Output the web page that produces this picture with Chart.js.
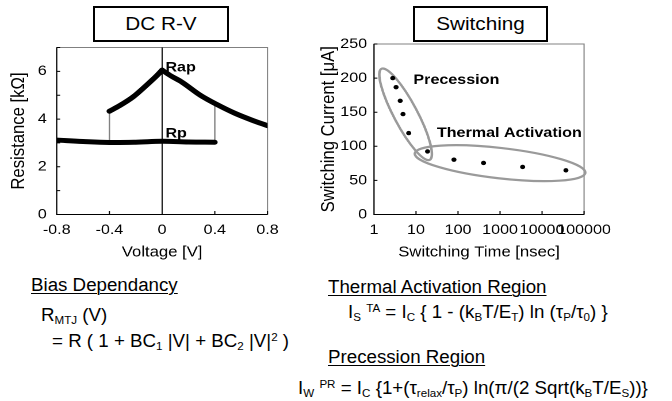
<!DOCTYPE html>
<html>
<head>
<meta charset="utf-8">
<script src="https://cdn.jsdelivr.net/npm/chart.js@4.4.0/dist/chart.umd.min.js"></script>
<style>
  html, body { margin: 0; padding: 0; background: #fff; }
  body { width: 672px; height: 401px; position: relative; overflow: hidden;
         font-family: "Liberation Sans", Arial, sans-serif; color: #000; }
  .chart { position: absolute; top: 0; transform-origin: 0 0; transform: scaleX(1.15); }
  .titlebox { position: absolute; top: 6px; height: 36px; border: 2px solid #000; box-sizing: border-box;
              display: flex; align-items: center; justify-content: center; font-size: 18px; background: #fff; }
  .titlebox span { display: inline-block; transform: scaleX(1.15); }
  .txt { position: absolute; font-size: 18px; line-height: 1; white-space: nowrap;
         transform-origin: 0 0; transform: scaleX(1.04); }
  .u { text-decoration: underline; text-underline-offset: 2px; text-decoration-thickness: 1px; }
  sub, sup { font-size: 0.62em; line-height: 0; }
  sub { vertical-align: -0.3em; }
  sup { vertical-align: 0.55em; }
</style>
</head>
<body>

<div class="titlebox" style="left:93px; width:136px;"><span>DC R-V</span></div>
<div class="titlebox" style="left:413px; width:135px;"><span>Switching</span></div>

<canvas id="rv" class="chart" style="left:0px;" width="250" height="265"></canvas>
<canvas id="sw" class="chart" style="left:310px;" width="275" height="265"></canvas>

<div class="txt u" style="left:31px; top:276px;">Bias Dependancy</div>
<div class="txt" style="left:41px; top:306px;">R<sub>MTJ</sub> (V)</div>
<div class="txt" style="left:52px; top:332px;">= R ( 1 + BC<sub>1</sub> |V| + BC<sub>2</sub> |V|<sup>2</sup> )</div>

<div class="txt u" style="left:328px; top:278px;">Thermal Activation Region</div>
<div class="txt" style="left:348px; top:303px;">I<sub>S</sub> <sup>TA</sup> = I<sub>C</sub> { 1 - (k<sub>B</sub>T/E<sub>T</sub>) ln (τ<sub>P</sub>/τ<sub>0</sub>) }</div>
<div class="txt u" style="left:328px; top:348px;">Precession Region</div>
<div class="txt" style="left:298px; top:379px;">I<sub>W</sub> <sup>PR</sup> = I<sub>C</sub> {1+(τ<sub>relax</sub>/τ<sub>P</sub>) ln(π/(2 Sqrt(k<sub>B</sub>T/E<sub>S</sub>))}</div>

<script>
// DC R-V: antiparallel branch (split at the cusp) and parallel branch
const rapLeftVoltage = [-0.4, -0.32, -0.22, -0.12, -0.04, 0];
const rapLeftResistance = [4.33, 4.57, 4.93, 5.41, 5.82, 6.05];
const rapRightVoltage = [0, 0.07, 0.15, 0.29, 0.42, 0.55, 0.68, 0.8];
const rapRightResistance = [6.05, 5.8, 5.55, 5.0, 4.6, 4.25, 3.96, 3.72];
const rpVoltage = [-0.8, -0.6, -0.4, -0.2, 0, 0.2, 0.4];
const rpResistance = [3.12, 3.06, 3.02, 3.03, 3.07, 3.04, 3.03];
// switching jumps between the two states
const jumpVoltage = [-0.4, 0.4];
const jumpLow = [3.02, 3.03];
const jumpHigh = [4.33, 4.6];
const voltageTicks = [-0.8, -0.4, 0, 0.4, 0.8];
const resistanceTicks = [0, 1, 2, 3, 4, 5, 6, 7];

// Switching current vs pulse width
const switchTime = [2.8, 3.35, 4.2, 4.9, 6.7, 18.8, 80, 405, 3450, 37000];
const switchCurrent = [200, 186.7, 166.7, 147.2, 119.4, 92.5, 80.4, 75.6, 69.7, 64.8];
const timeTicks = [1, 10, 100, 1000, 10000, 100000];
const currentTicks = [0, 50, 100, 150, 200, 250];

const STRETCH = 1.15;
const FONT = '"Liberation Sans", Arial, sans-serif';

const toPoints = (xs, ys) => xs.map((v, i) => ({ x: v, y: ys[i] }));

// plot frame, axes and inward tick marks
const frame = {
  id: 'frame',
  beforeDatasetsDraw(chart, args, opts) {
    const { ctx, chartArea: a, scales: { x, y } } = chart;
    ctx.save();
    ctx.lineWidth = 1;
    ctx.strokeStyle = '#808080';
    ctx.strokeRect(a.left, a.top, a.right - a.left, a.bottom - a.top);
    ctx.strokeStyle = '#000';
    ctx.beginPath();
    ctx.moveTo(a.left, a.top);
    ctx.lineTo(a.left, a.bottom);
    ctx.lineTo(a.right, a.bottom);
    x.ticks.forEach(t => {
      const px = x.getPixelForValue(t.value);
      ctx.moveTo(px, a.bottom);
      ctx.lineTo(px, a.bottom - 3.5);
    });
    y.ticks.forEach(t => {
      const py = y.getPixelForValue(t.value);
      ctx.moveTo(a.left, py);
      ctx.lineTo(a.left + 3, py);
    });
    if (opts.zeroLine) {
      const px = x.getPixelForValue(0);
      ctx.moveTo(px, a.top);
      ctx.lineTo(px, a.bottom);
    }
    ctx.stroke();
    ctx.restore();
  }
};

// grey regions drawn as ellipses around data groups
const regions = {
  id: 'regions',
  beforeDatasetsDraw(chart, args, opts) {
    const { ctx, scales: { x, y } } = chart;
    (opts.items || []).forEach(e => {
      ctx.save();
      ctx.beginPath();
      ctx.translate(x.getPixelForValue(e.x), y.getPixelForValue(e.y));
      ctx.scale(1 / STRETCH, 1);
      ctx.ellipse(0, 0, e.rx, e.ry, e.angle * Math.PI / 180, 0, Math.PI * 2);
      ctx.restore();
      ctx.save();
      ctx.lineWidth = 2.2;
      ctx.strokeStyle = '#9a9a9a';
      ctx.stroke();
      ctx.restore();
    });
  }
};

const notes = {
  id: 'notes',
  afterDatasetsDraw(chart, args, opts) {
    const { ctx, scales: { x, y } } = chart;
    ctx.save();
    ctx.fillStyle = '#000';
    ctx.font = 'bold 14px ' + FONT;
    ctx.textAlign = 'left';
    ctx.textBaseline = 'alphabetic';
    (opts.items || []).forEach(n => ctx.fillText(n.text, x.getPixelForValue(n.x), y.getPixelForValue(n.y)));
    ctx.restore();
  }
};

const noGrid = { display: false, drawTicks: false, tickLength: 0 };

function axisX(extra) {
  return Object.assign({
    grid: noGrid,
    border: { display: false },
    ticks: { font: { family: FONT, size: 14 }, color: '#000', padding: 7, autoSkip: false, maxRotation: 0 },
    afterFit: s => { s.height = 50.5; }
  }, extra);
}

function axisY(width, padding, extra) {
  return Object.assign({
    grid: noGrid,
    border: { display: false },
    ticks: { font: { family: FONT, size: 14 }, color: '#000', padding: padding, autoSkip: false },
    afterFit: s => { s.width = width; }
  }, extra);
}

const titleFont = { family: FONT, size: 14.5 };
const sideTitleFont = { family: FONT, size: 16.7 };

new Chart(document.getElementById('rv'), {
  type: 'line',
  data: {
    datasets: [
      { data: toPoints(rapLeftVoltage, rapLeftResistance), borderColor: '#000', borderWidth: 5, tension: 0.4,
        cubicInterpolationMode: 'monotone', pointRadius: 0, borderCapStyle: 'round', borderJoinStyle: 'round' },
      { data: toPoints(rapRightVoltage, rapRightResistance), borderColor: '#000', borderWidth: 5, tension: 0.4,
        cubicInterpolationMode: 'monotone', pointRadius: 0, borderCapStyle: 'round', borderJoinStyle: 'round' },
      { data: toPoints(rpVoltage, rpResistance), borderColor: '#000', borderWidth: 5, tension: 0.4,
        pointRadius: 0, borderCapStyle: 'round', borderJoinStyle: 'round' },
      { data: [{ x: jumpVoltage[0], y: jumpLow[0] }, { x: jumpVoltage[0], y: jumpHigh[0] }],
        borderColor: '#808080', borderWidth: 1.2, pointRadius: 0 },
      { data: [{ x: jumpVoltage[1], y: jumpLow[1] }, { x: jumpVoltage[1], y: jumpHigh[1] }],
        borderColor: '#808080', borderWidth: 1.2, pointRadius: 0 }
    ]
  },
  options: {
    responsive: false,
    devicePixelRatio: 2,
    animation: false,
    layout: { padding: { left: 0, top: 47.5, right: 17.4, bottom: 0 } },
    plugins: {
      legend: { display: false },
      tooltip: { enabled: false },
      frame: { zeroLine: true },
      notes: { items: [
        { text: 'Rap', x: 0.025, y: 5.99 },
        { text: 'Rp', x: 0.025, y: 3.23 }
      ] }
    },
    scales: {
      x: axisX({
        type: 'linear', min: -0.8, max: 0.8,
        afterBuildTicks: s => { s.ticks = voltageTicks.map(v => ({ value: v })); },
        title: { display: true, text: 'Voltage [V]', font: titleFont, color: '#000', padding: { top: 0, bottom: 4 } }
      }),
      y: axisY(49.3, 8.7, {
        type: 'linear', min: 0, max: 7,
        afterBuildTicks: s => { s.ticks = resistanceTicks.map(v => ({ value: v })); },
        title: { display: true, text: 'Resistance [kΩ]', font: sideTitleFont, color: '#000', padding: { top: 6.5, bottom: 0 } }
      })
    }
  },
  plugins: [frame, notes]
});
// even values only get a label
Chart.getChart('rv').options.scales.y.ticks.callback = v => (v % 2 === 0 ? String(v) : '');
Chart.getChart('rv').options.scales.x.ticks.callback = v => (v === 0 ? '0' : v.toFixed(1));
Chart.getChart('rv').update();

new Chart(document.getElementById('sw'), {
  type: 'scatter',
  data: {
    datasets: [
      { data: toPoints(switchTime, switchCurrent), backgroundColor: '#000', borderColor: '#000',
        pointRadius: 2.2, pointHoverRadius: 2.2, borderWidth: 0 }
    ]
  },
  options: {
    responsive: false,
    devicePixelRatio: 2,
    animation: false,
    layout: { padding: { left: 0, top: 44, right: 36.7, bottom: 0 } },
    plugins: {
      legend: { display: false },
      tooltip: { enabled: false },
      regions: { items: [
        { x: 5.65, y: 146.9, rx: 51.5, ry: 11.7, angle: 62 },
        { x: 1000, y: 75.3, rx: 85.8, ry: 15.2, angle: 6.5 }
      ] },
      notes: { items: [
        { text: 'Precession', x: 8.67, y: 191.5 },
        { text: 'Thermal Activation', x: 31.4, y: 113.6 }
      ] }
    },
    scales: {
      x: axisX({
        type: 'logarithmic', min: 1, max: 100000,
        afterBuildTicks: s => { s.ticks = timeTicks.map(v => ({ value: v })); },
        title: { display: true, text: 'Switching Time [nsec]', font: titleFont, color: '#000', padding: { top: 0, bottom: 4 } }
      }),
      y: axisY(55.65, 6, {
        type: 'linear', min: 0, max: 250,
        afterBuildTicks: s => { s.ticks = currentTicks.map(v => ({ value: v })); },
        title: { display: true, text: 'Switching Current [μA]', font: sideTitleFont, color: '#000', padding: { top: 6.5, bottom: 0 } }
      })
    }
  },
  plugins: [frame, regions, notes]
});
Chart.getChart('sw').options.scales.x.ticks.callback = v => String(v);
Chart.getChart('sw').update();
</script>
</body>
</html>
